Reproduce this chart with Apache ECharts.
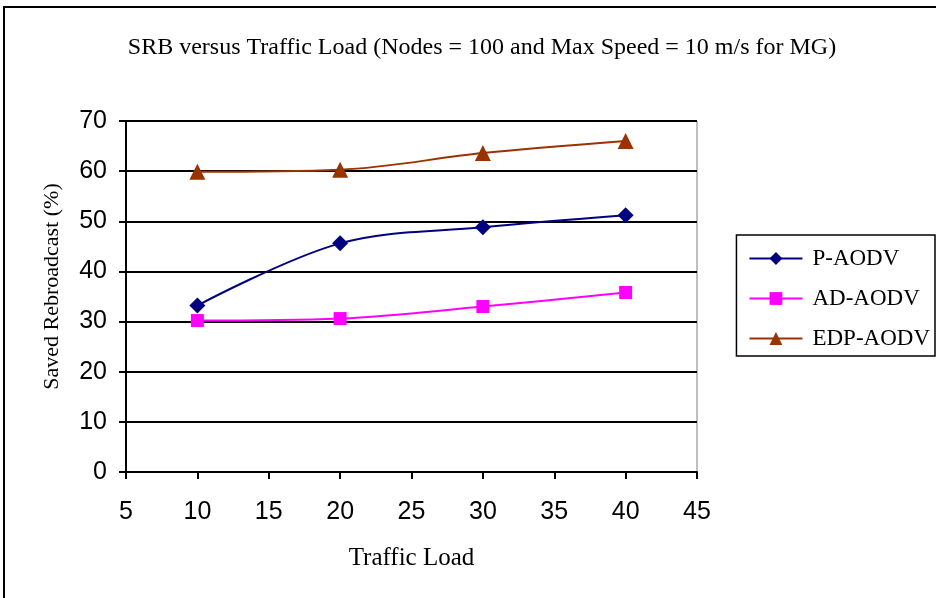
<!DOCTYPE html>
<html><head><meta charset="utf-8">
<script src="https://cdn.jsdelivr.net/npm/echarts@6/dist/echarts.min.js"></script>
<style>html,body{margin:0;padding:0;background:#fff}#c{width:936px;height:598px}</style>
</head><body><div id="c"></div>
<script>
const xValues = [10, 20, 30, 40];
const pAodv = [33.2, 45.6, 48.8, 51.2];
const adAodv = [30.2, 30.6, 33.0, 35.8];
const edpAodv = [59.9, 60.3, 63.6, 66.0];
const seriesNames = ['P-AODV', 'AD-AODV', 'EDP-AODV'];
const titleText = 'SRB versus Traffic Load (Nodes = 100 and Max Speed = 10 m/s for MG)';

const chart = echarts.init(document.getElementById('c'));
const pair = arr => xValues.map((x, i) => [x, arr[i]]);
const serif = 'Liberation Serif';
chart.setOption({
  animation: false,
  title: { text: titleText, left: 477, top: 31, textAlign: 'center',
    textStyle: { fontFamily: serif, fontSize: 24, fontWeight: 'normal', color: '#000' } },
  graphic: [
    { type: 'rect', shape: { x: 4, y: 7, width: 940, height: 600 }, style: { fill: null, stroke: '#000', lineWidth: 2 }, silent: true }
  ],
  grid: { left: 126, top: 121, width: 571, height: 351, show: true, borderColor: '#808080', borderWidth: 1, backgroundColor: '#fff' },
  legend: {
    right: 1, top: 235, orient: 'vertical', itemGap: 17, itemWidth: 53, itemHeight: 16,
    padding: [12, 5, 6, 12], borderColor: '#000', borderWidth: 1.5,
    textStyle: { fontFamily: serif, fontSize: 23, color: '#000', padding: [0, 0, 0, 5] },
    data: seriesNames
  },
  xAxis: {
    type: 'value', min: 5, max: 45, interval: 5,
    name: 'Traffic Load', nameLocation: 'middle', nameGap: 74,
    nameTextStyle: { fontFamily: serif, fontSize: 25, color: '#000' },
    axisLine: { lineStyle: { color: '#000', width: 2 } },
    axisTick: { show: true, inside: false, length: 7, lineStyle: { color: '#000', width: 2 } },
    axisLabel: { fontFamily: 'Liberation Sans', fontSize: 25, color: '#000', margin: 28 },
    splitLine: { show: false }
  },
  yAxis: {
    type: 'value', min: 0, max: 70, interval: 10,
    name: 'Saved Rebroadcast (%)', nameLocation: 'middle', nameGap: 63, nameMoveOverlap: false,
    nameTextStyle: { fontFamily: serif, fontSize: 22, color: '#000', padding: [0, 0, 0, 20] },
    axisLine: { show: true, lineStyle: { color: '#000', width: 2 } },
    axisTick: { show: true, length: 7, lineStyle: { color: '#000', width: 2 } },
    axisLabel: { fontFamily: 'Liberation Sans', fontSize: 25, color: '#000', margin: 19 },
    splitLine: { show: true, lineStyle: { color: '#000', width: 2 } }
  },
  series: [
    { name: seriesNames[0], type: 'line', data: pair(pAodv), smooth: 0.35,
      symbol: 'diamond', symbolSize: 16, color: '#000080', lineStyle: { width: 2, color: '#000080' }, itemStyle: { color: '#000080' } },
    { name: seriesNames[1], type: 'line', data: pair(adAodv), smooth: 0.35,
      symbol: 'rect', symbolSize: 13, color: '#FF00FF', lineStyle: { width: 2, color: '#FF00FF' }, itemStyle: { color: '#FF00FF' } },
    { name: seriesNames[2], type: 'line', data: pair(edpAodv), smooth: 0.35,
      symbol: 'triangle', symbolSize: 16, color: '#993300', lineStyle: { width: 2, color: '#993300' }, itemStyle: { color: '#993300' } }
  ]
});
</script></body></html>
